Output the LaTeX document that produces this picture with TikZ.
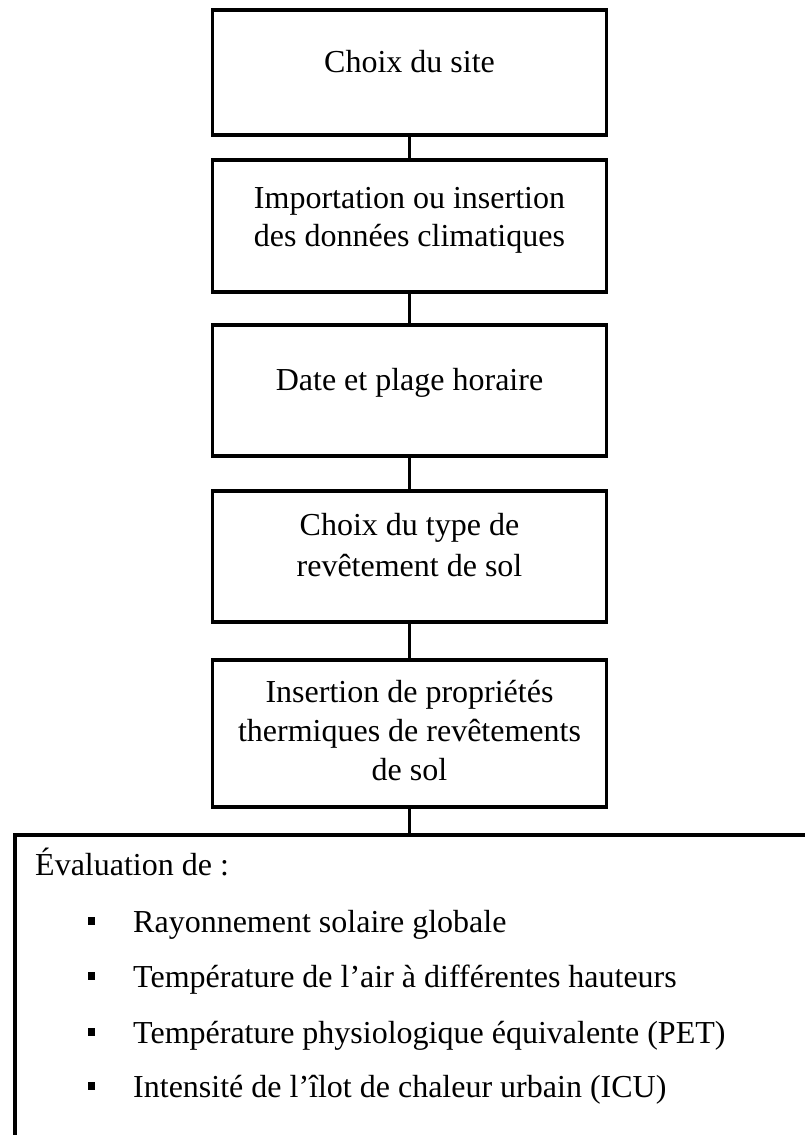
\documentclass[tikz,border=0pt]{standalone}
\usepackage{fontspec}
\setmainfont{Liberation Serif}
\begin{document}
\begin{tikzpicture}[x=1pt,y=-1pt,
  box/.style={draw, line width=3.8pt, minimum width=394pt, inner sep=0pt},
  lbl/.style={inner sep=0pt, align=center, anchor=base, font=\fontsize{32}{39}\selectfont},
  conn/.style={line width=3.8pt},
  item/.style={inner sep=0pt, anchor=base west, font=\fontsize{32}{39}\selectfont},
  bulletsq/.style={fill=black, minimum width=7pt, minimum height=8pt, inner sep=0pt}]
\useasboundingbox (0,0) rectangle (805,1135);
% boxes
\node[box, minimum height=125pt] (b1) at (409.5,72.5) {};
\node[box, minimum height=132pt] (b2) at (409.5,226) {};
\node[box, minimum height=131pt] (b3) at (409.5,390.5) {};
\node[box, minimum height=131pt] (b4) at (409.5,556.5) {};
\node[box, minimum height=147pt] (b5) at (409.5,733.5) {};
\node[draw, line width=3.8pt, minimum width=1000pt, minimum height=400pt, inner sep=0pt] (ev) at (515,1035) {};
% labels (anchor = baseline of last line)
\node[lbl] (t1) at (409.5,72) {Choix du site};
\node[lbl, font=\fontsize{32}{38}\selectfont] (t2) at (409.5,246) {Importation ou insertion\\des données climatiques};
\node[lbl] (t3) at (409.5,390) {Date et plage horaire};
\node[lbl, font=\fontsize{32}{41}\selectfont] (t4) at (409.5,576) {Choix du type de\\revêtement de sol};
\node[lbl] (t5) at (409.5,780) {Insertion de propriétés\\thermiques de revêtements\\de sol};
% connectors
\draw[conn] (b1.south) -- (b2.north);
\draw[conn] (b2.south) -- (b3.north);
\draw[conn] (b3.south) -- (b4.north);
\draw[conn] (b4.south) -- (b5.north);
\draw[conn] (b5.south) -- (b5.south |- ev.north);
% evaluation list
\node[item] (e0) at (35,875) {Évaluation de :};
\node[item] (e1) at (133,932) {Rayonnement solaire globale};
\node[item] (e2) at (133,987) {Température de l’air à différentes hauteurs};
\node[item] (e3) at (133,1043) {Température physiologique équivalente (PET)};
\node[item] (e4) at (133,1097) {Intensité de l’îlot de chaleur urbain (ICU)};
\node[bulletsq] (p1) at (91.5,921) {};
\node[bulletsq] (p2) at (91.5,976) {};
\node[bulletsq] (p3) at (91.5,1032) {};
\node[bulletsq] (p4) at (91.5,1086) {};
\end{tikzpicture}
\end{document}
